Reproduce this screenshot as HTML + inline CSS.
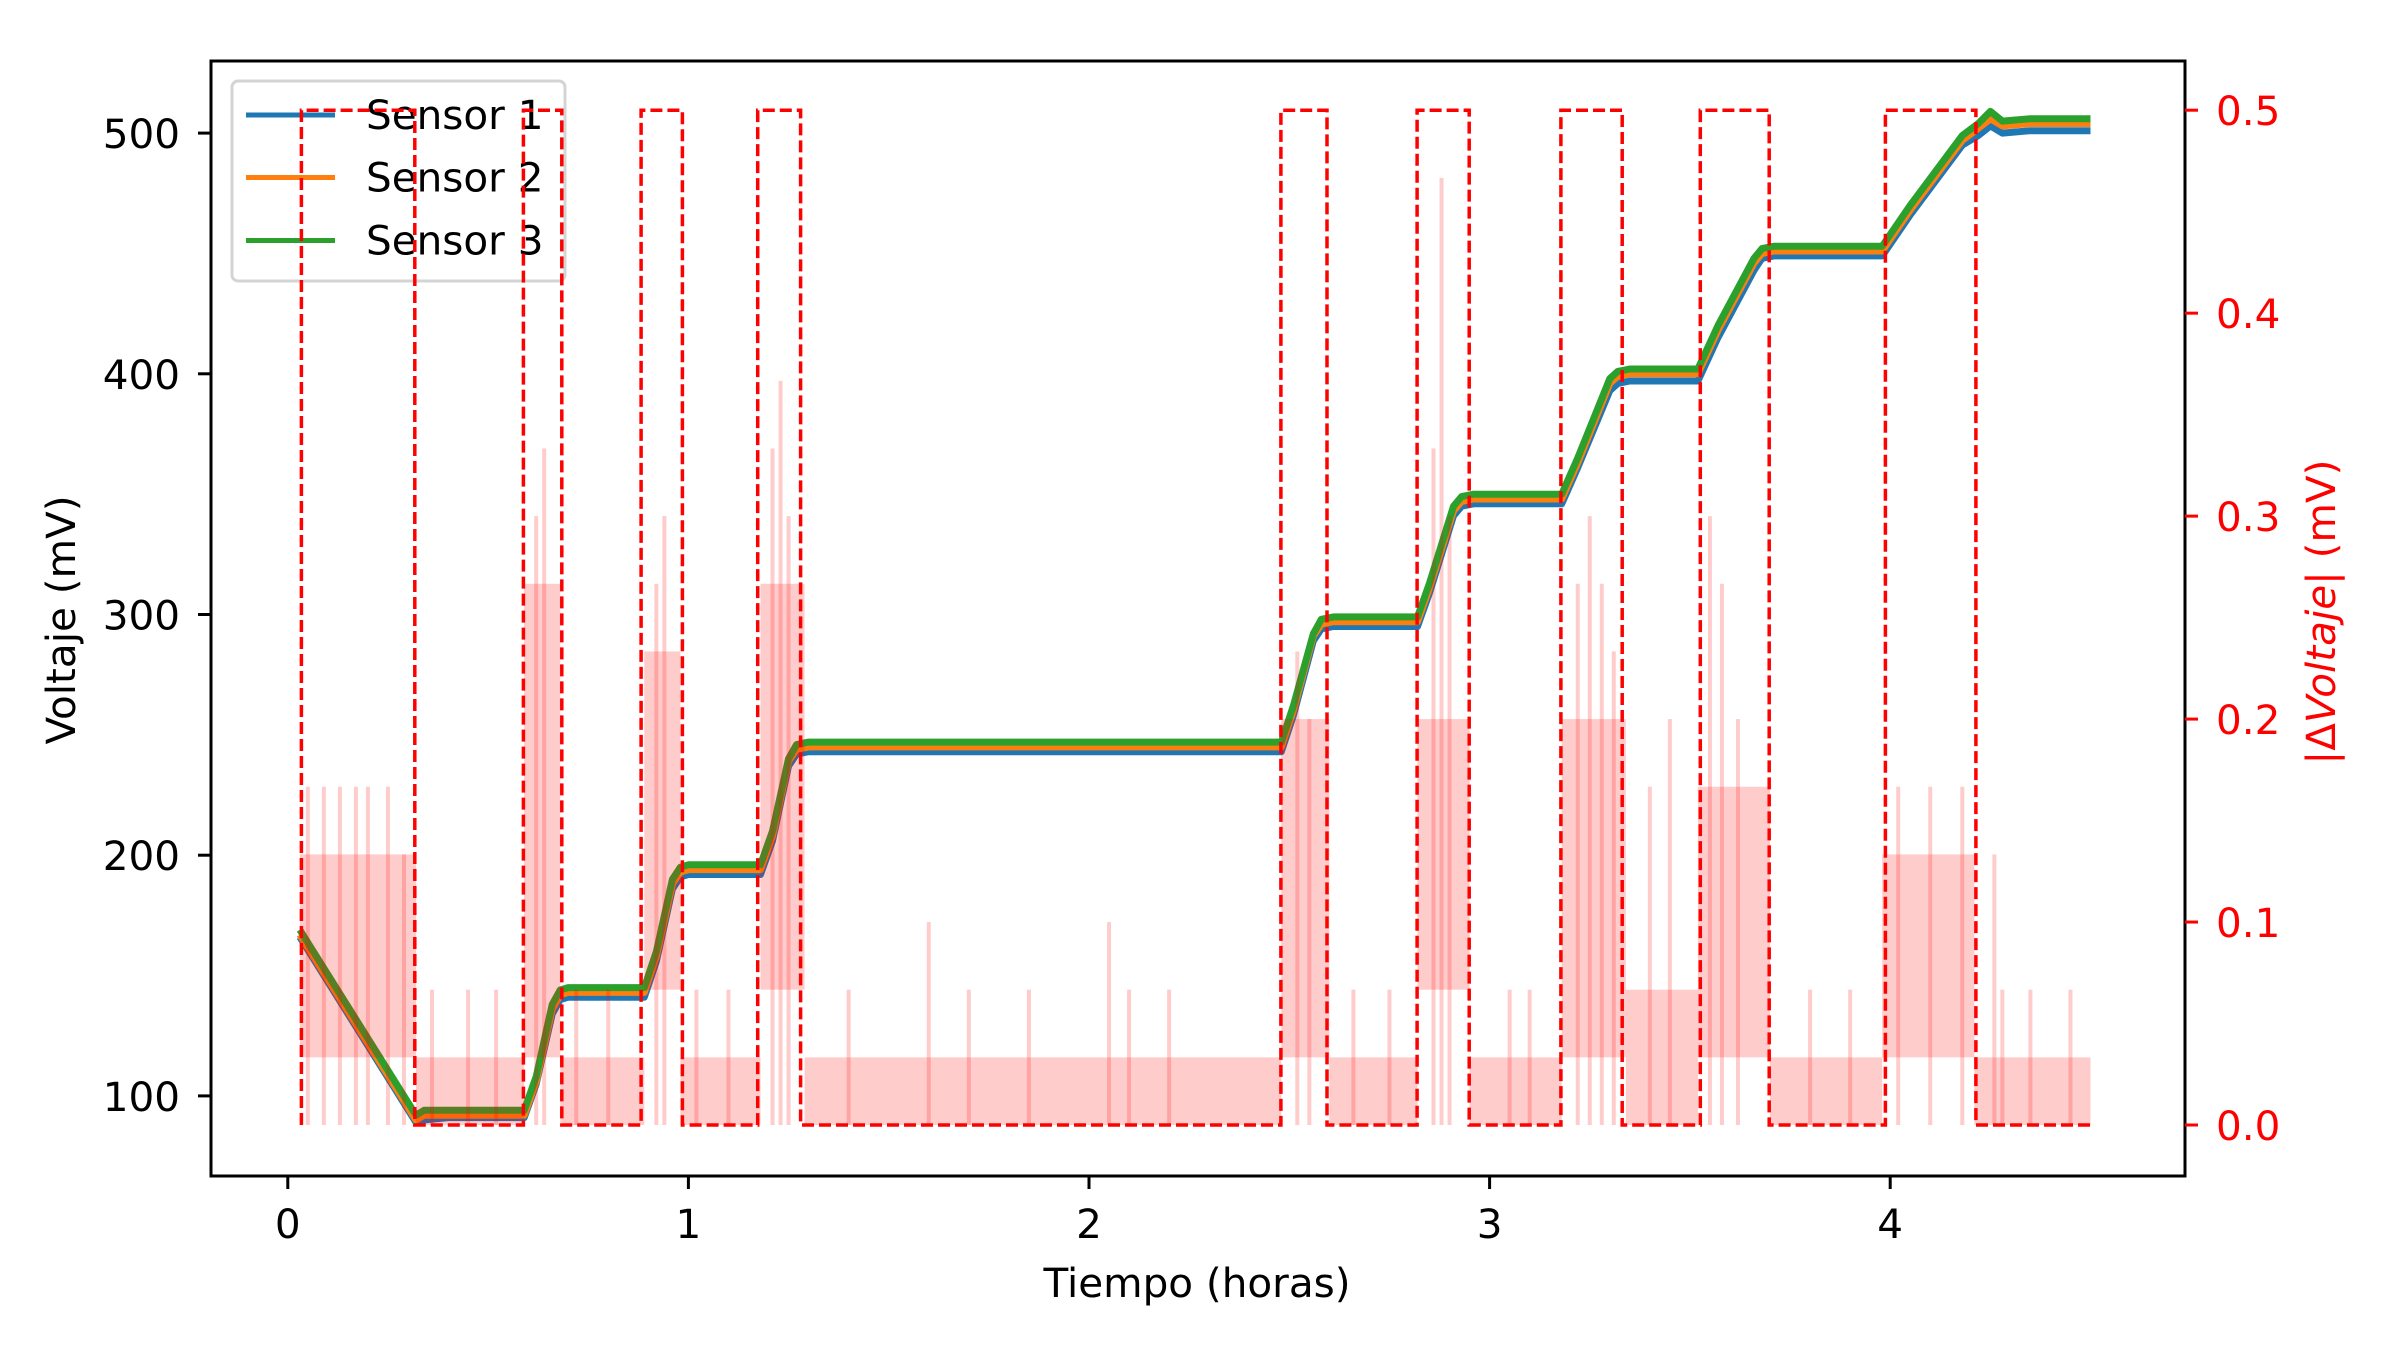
<!DOCTYPE html>
<html><head><meta charset="utf-8"><style>
html,body{margin:0;padding:0;background:#fff}
svg{display:block}
text{font-family:"DejaVu Sans","Liberation Sans",sans-serif}
</style></head><body>
<svg id="chart" width="2400" height="1350" viewBox="0 0 2400 1350" xmlns="http://www.w3.org/2000/svg">
<defs><clipPath id="plotclip"><rect x="211" y="61" width="1974" height="1115"/></clipPath></defs>
<g id="ax1" clip-path="url(#plotclip)"></g>
<g id="legend">
<rect x="232" y="81" width="333" height="200" rx="6" fill="#fff" fill-opacity="0.8" stroke="#d4d4d4" stroke-width="3"/>
<line x1="246" y1="115" x2="335" y2="115" stroke="#1f77b4" stroke-width="5"/>
<text x="366" y="129" font-size="40.5">Sensor 1</text>
<line x1="246" y1="177.5" x2="335" y2="177.5" stroke="#ff7f0e" stroke-width="5"/>
<text x="366" y="191.5" font-size="40.5">Sensor 2</text>
<line x1="246" y1="240.5" x2="335" y2="240.5" stroke="#2ca02c" stroke-width="5"/>
<text x="366" y="254.5" font-size="40.5">Sensor 3</text>
</g>
<g id="ax2" clip-path="url(#plotclip)"></g>
<rect x="211" y="61" width="1974" height="1115" fill="none" stroke="#000" stroke-width="3"/>
<g id="axes"></g>
<text x="1197" y="1297" font-size="40.5" text-anchor="middle">Tiempo (horas)</text>
<text transform="translate(75,620) rotate(-90)" font-size="40.5" text-anchor="middle">Voltaje (mV)</text>
<text transform="translate(2335,612) rotate(-90)" font-size="40.5" text-anchor="middle" fill="#ff0000">|Δ<tspan font-style="italic">Voltaje</tspan>| (mV)</text>
</svg>
<script>
const times = [0.03,0.32,0.34,0.40,0.59,0.62,0.66,0.68,0.70,0.89,0.92,0.96,0.98,1.00,1.18,1.21,1.25,1.27,1.30,2.48,2.51,2.56,2.58,2.61,2.82,2.85,2.91,2.93,2.96,3.18,3.22,3.30,3.32,3.35,3.52,3.57,3.66,3.68,3.71,3.98,4.05,4.18,4.22,4.25,4.28,4.35,4.50];
const sensor1 = [166,89,90,91,91,105,134,140,141,141,156,186,191,192,192,206,237,242,243,243,258,289,294,295,295,309,341,345,346,346,361,393,396,397,397,415,443,448,449,449,466,495,499,503,500,501,501];
const sensor2 = [167,90,92,92,92,106,136,142,143,143,158,188,193,194,194,208,239,244,245,245,260,291,296,297,297,311,343,347,348,348,363,396,399,400,400,418,446,450,451,451,468,497,502,506,503,504,504];
const sensor3 = [169,92,94,94,94,108,138,144,145,145,160,190,195,196,196,210,240,246,247,247,262,292,298,299,299,313,345,349,350,350,365,398,401,402,402,420,448,452,453,453,470,499,504,509,505,506,506];
const stepEdges = [0.034,0.317,0.588,0.684,0.882,0.985,1.173,1.280,2.479,2.594,2.819,2.949,3.178,3.331,3.526,3.698,3.988,4.214,4.508];
const stepHigh = 0.5;
const quantum = 1/30;
// noise bands: start, end, low level (quanta), high level (quanta)
const bandStart = [0.03,0.32,0.59,0.68,0.89,0.98,1.18,1.29,2.48,2.60,2.82,2.95,3.18,3.34,3.52,3.70,3.98,4.21];
const bandEnd   = [0.32,0.59,0.68,0.89,0.98,1.18,1.29,2.48,2.60,2.82,2.95,3.18,3.34,3.52,3.70,3.98,4.21,4.50];
const bandLow   = [1,0,1,0,2,0,2,0,1,0,2,0,1,0,1,0,1,0];
const bandHigh  = [4,1,8,1,7,1,8,1,6,1,6,1,6,2,5,1,4,1];
const spikeTimes  = [0.05,0.09,0.13,0.17,0.20,0.25,0.29,0.36,0.45,0.52,0.62,0.64,0.72,0.80,0.92,0.94,1.02,1.10,1.21,1.23,1.25,1.40,1.60,1.70,1.85,2.05,2.10,2.20,2.52,2.55,2.66,2.75,2.86,2.88,2.90,3.05,3.10,3.22,3.25,3.28,3.31,3.40,3.45,3.55,3.58,3.62,3.80,3.90,4.02,4.10,4.18,4.26,4.28,4.35,4.45];
const spikeLevels = [5,5,5,5,5,5,4,2,2,2,9,10,2,2,8,9,2,2,10,11,9,2,3,2,2,3,2,2,7,6,2,2,10,14,9,2,2,8,9,8,7,5,6,9,8,6,2,2,5,5,5,4,2,2,2];
const xTicks = [0,1,2,3,4];
const yTicks = [100,200,300,400,500];
const y2Ticks = [0.0,0.1,0.2,0.3,0.4,0.5];
const y2TickLabels = ["0.0","0.1","0.2","0.3","0.4","0.5"];

const X = t => 287.8 + t*400.6;
const Y = v => 1095.9 - (v-100)*2.407;
const Y2 = v => 1125 - v*2029.6;
const NS = "http://www.w3.org/2000/svg";
function mk(tag, parent, attrs){const e=document.createElementNS(NS,tag);for(const k in attrs)e.setAttribute(k,attrs[k]);parent.appendChild(e);return e;}

const ax1 = document.getElementById('ax1');
[[sensor1,'#1f77b4','sensor-1-line'],[sensor2,'#ff7f0e','sensor-2-line'],[sensor3,'#2ca02c','sensor-3-line']].forEach(([s,c,n])=>{
  const d = s.map((v,i)=>(i?'L':'M')+X(times[i]).toFixed(1)+','+Y(v).toFixed(1)).join('');
  const p = mk('path', ax1, {d:d, fill:'none', stroke:c, 'stroke-width':7, 'stroke-linejoin':'round'});
  
  
});

const ax2 = document.getElementById('ax2');
for(let i=0;i<bandStart.length;i++){
  const r = mk('rect', ax2, {x:X(bandStart[i]), y:Y2(bandHigh[i]*quantum), width:X(bandEnd[i])-X(bandStart[i]), height:Y2(bandLow[i]*quantum)-Y2(bandHigh[i]*quantum), fill:'#ff0000', 'fill-opacity':0.2});
  
  
}
for(let i=0;i<spikeTimes.length;i++){
  const r = mk('rect', ax2, {x:X(spikeTimes[i])-2, y:Y2(spikeLevels[i]*quantum), width:4, height:Y2(0)-Y2(spikeLevels[i]*quantum), fill:'#ff0000', 'fill-opacity':0.2});
  
  
}
let sd = '';
for(let i=0;i<stepEdges.length-1;i++){
  const v = i%2===0 ? stepHigh : 0;
  const x0 = X(stepEdges[i]), x1 = X(stepEdges[i+1]);
  sd += (i? 'L':'M') + x0.toFixed(1)+','+Y2(v).toFixed(1) + 'L' + x1.toFixed(1)+','+Y2(v).toFixed(1);
  if(i<stepEdges.length-2){ const nv = (i+1)%2===0 ? stepHigh : 0; sd += 'L'+x1.toFixed(1)+','+Y2(nv).toFixed(1); }
}
sd = 'M'+X(stepEdges[0]).toFixed(1)+','+Y2(0).toFixed(1)+'L'+sd.slice(1);
const step = mk('path', ax2, {d:sd, fill:'none', stroke:'#ff0000', 'stroke-width':3.5, 'stroke-dasharray':'12,5'});



const axes = document.getElementById('axes');
xTicks.forEach(t=>{
  const l = mk('line', axes, {x1:X(t), x2:X(t), y1:1176, y2:1189, stroke:'#000', 'stroke-width':3});
  
  
  const tx = mk('text', axes, {x:X(t), y:1238, 'font-size':40.5, 'text-anchor':'middle'});
  tx.textContent = t;
  
  
});
yTicks.forEach(v=>{
  const l = mk('line', axes, {x1:198, x2:211, y1:Y(v), y2:Y(v), stroke:'#000', 'stroke-width':3});
  
  
  const tx = mk('text', axes, {x:180, y:Y(v)+15, 'font-size':40.5, 'text-anchor':'end'});
  tx.textContent = v;
  
  
});
y2Ticks.forEach((v,i)=>{
  const l = mk('line', axes, {x1:2185, x2:2198, y1:Y2(v), y2:Y2(v), stroke:'#ff0000', 'stroke-width':3});
  
  
  const tx = mk('text', axes, {x:2216, y:Y2(v)+15, 'font-size':40.5, fill:'#ff0000'});
  tx.textContent = y2TickLabels[i];
  
  
});
</script>
</body></html>
